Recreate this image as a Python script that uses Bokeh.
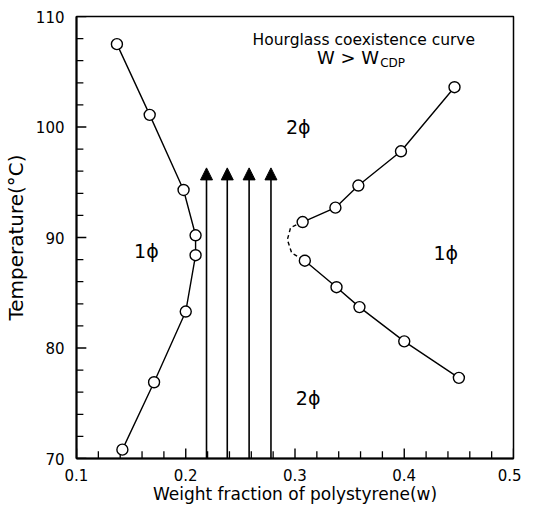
from bokeh.plotting import figure
from bokeh.models import Range1d, FixedTicker, Arrow, NormalHead, ColumnDataSource
from bokeh.core.properties import value
from bokeh.embed import file_html
from bokeh.resources import INLINE

# ---- data ----
left_w = [0.137, 0.167, 0.198, 0.209, 0.209, 0.200, 0.171, 0.142]
left_t = [107.5, 101.1, 94.3, 90.2, 88.4, 83.3, 76.9, 70.8]

upper_w = [0.307, 0.337, 0.358, 0.397, 0.446]
upper_t = [91.4, 92.7, 94.7, 97.8, 103.6]

lower_w = [0.309, 0.338, 0.359, 0.400, 0.450]
lower_t = [87.9, 85.5, 83.7, 80.6, 77.3]

dashed_w = [0.307, 0.296, 0.293, 0.297, 0.309]
dashed_t = [91.4, 90.9, 89.8, 88.6, 87.9]

arrow_w = [0.219, 0.238, 0.258, 0.278]
arrow_t_start = 70.0
arrow_t_end = 96.3

x_ticks = [0.1, 0.2, 0.3, 0.4, 0.5]
x_minor = [0.12, 0.14, 0.16, 0.18, 0.22, 0.24, 0.26, 0.28, 0.32, 0.34, 0.36, 0.38,
           0.42, 0.44, 0.46, 0.48]
y_ticks = [70, 80, 90, 100, 110]
y_minor = [72, 74, 76, 78, 82, 84, 86, 88, 92, 94, 96, 98, 102, 104, 106, 108]

phase_labels = ["2ϕ", "2ϕ", "1ϕ", "1ϕ"]
phase_w = [0.303, 0.312, 0.164, 0.438]
phase_t = [100.0, 75.5, 88.8, 88.6]

FONT = "DejaVu Sans"
X0, X1 = 0.1, 0.5
Y0, Y1 = 70, 110

p = figure(width=521, height=508, output_backend="svg", toolbar_location=None,
           x_range=Range1d(X0, X1), y_range=Range1d(Y0, Y1),
           min_border_left=69, min_border_right=8, min_border_top=16,
           min_border_bottom=50)

p.background_fill_color = "white"
p.border_fill_color = "white"
p.grid.visible = False
p.outline_line_color = "black"
p.outline_line_width = 1.5

for ax in (p.xaxis[0], p.yaxis[0]):
    ax.axis_line_width = 2
    ax.axis_line_color = "black"
    ax.major_tick_in = 0
    ax.major_tick_out = 0
    ax.minor_tick_in = 0
    ax.minor_tick_out = 0
    ax.major_label_text_font = FONT
    ax.major_label_text_font_size = "15px"
    ax.major_label_text_color = "black"
    ax.axis_label_text_font = FONT
    ax.axis_label_text_font_style = "normal"
    ax.axis_label_text_color = "black"

p.xaxis[0].ticker = FixedTicker(ticks=x_ticks, minor_ticks=x_minor)
p.yaxis[0].ticker = FixedTicker(ticks=y_ticks, minor_ticks=y_minor)
p.xaxis[0].major_label_overrides = {0.1: "0.1", 0.2: "0.2", 0.3: "0.3", 0.4: "0.4", 0.5: "0.5"}
p.xaxis[0].axis_label = "Weight fraction of polystyrene(w)"
p.yaxis[0].axis_label = "Temperature(°C)"
p.xaxis[0].axis_label_text_font_size = "17px"
p.yaxis[0].axis_label_text_font_size = "20px"
p.xaxis[0].major_label_standoff = 10
p.yaxis[0].major_label_standoff = 12
p.xaxis[0].axis_label_standoff = 0
p.yaxis[0].axis_label_standoff = 5

# inward tick marks, drawn from the tick lists
xmaj_len, xmin_len = 0.9, 0.65        # in degrees (vertical ticks on bottom axis)
ymaj_len, ymin_len = 0.009, 0.0063    # in weight fraction (horizontal ticks on left axis)
p.segment(x0=x_ticks, y0=[Y0] * len(x_ticks), x1=x_ticks,
          y1=[Y0 + xmaj_len] * len(x_ticks), line_color="black", line_width=1.4)
p.segment(x0=x_minor, y0=[Y0] * len(x_minor), x1=x_minor,
          y1=[Y0 + xmin_len] * len(x_minor), line_color="black", line_width=1.3)
p.segment(x0=[X0] * len(y_ticks), y0=y_ticks, x1=[X0 + ymaj_len] * len(y_ticks),
          y1=y_ticks, line_color="black", line_width=1.4)
p.segment(x0=[X0] * len(y_minor), y0=y_minor, x1=[X0 + ymin_len] * len(y_minor),
          y1=y_minor, line_color="black", line_width=1.3)

# curves
p.line(left_w, left_t, line_color="black", line_width=1.4)
p.line(upper_w, upper_t, line_color="black", line_width=1.4)
p.line(lower_w, lower_t, line_color="black", line_width=1.4)
p.line(dashed_w, dashed_t, line_color="black", line_width=1.4, line_dash="4 3")

for ws, ts in ((left_w, left_t), (upper_w, upper_t), (lower_w, lower_t)):
    p.scatter(ws, ts, marker="circle", size=11, fill_color="white",
              line_color="black", line_width=1.4)

# arrows
for w in arrow_w:
    p.add_layout(Arrow(x_start=w, y_start=arrow_t_start, x_end=w, y_end=arrow_t_end,
                       line_color="black", line_width=1.6,
                       end=NormalHead(size=12, fill_color="black", line_color="black",
                                      line_width=1)))

# phase labels
src = ColumnDataSource(dict(x=phase_w, y=phase_t, t=phase_labels))
p.text(x="x", y="y", text="t", source=src, text_align="center",
       text_baseline="middle", text_font=value(FONT), text_font_size="19px",
       text_color="black")

# header annotations
p.text(x=[0.363], y=[107.9], text=["Hourglass coexistence curve"], text_align="center",
       text_baseline="middle", text_font=value(FONT), text_font_size="15.5px",
       text_color="black")
p.text(x=[0.377], y=[106.3], text=["W > W"], text_align="right",
       text_baseline="middle", text_font=value(FONT), text_font_size="18px",
       text_color="black")
p.text(x=[0.378], y=[105.8], text=["CDP"], text_align="left",
       text_baseline="middle", text_font=value(FONT), text_font_size="12px",
       text_color="black")

open("out.html", "w").write(file_html(p, INLINE))
